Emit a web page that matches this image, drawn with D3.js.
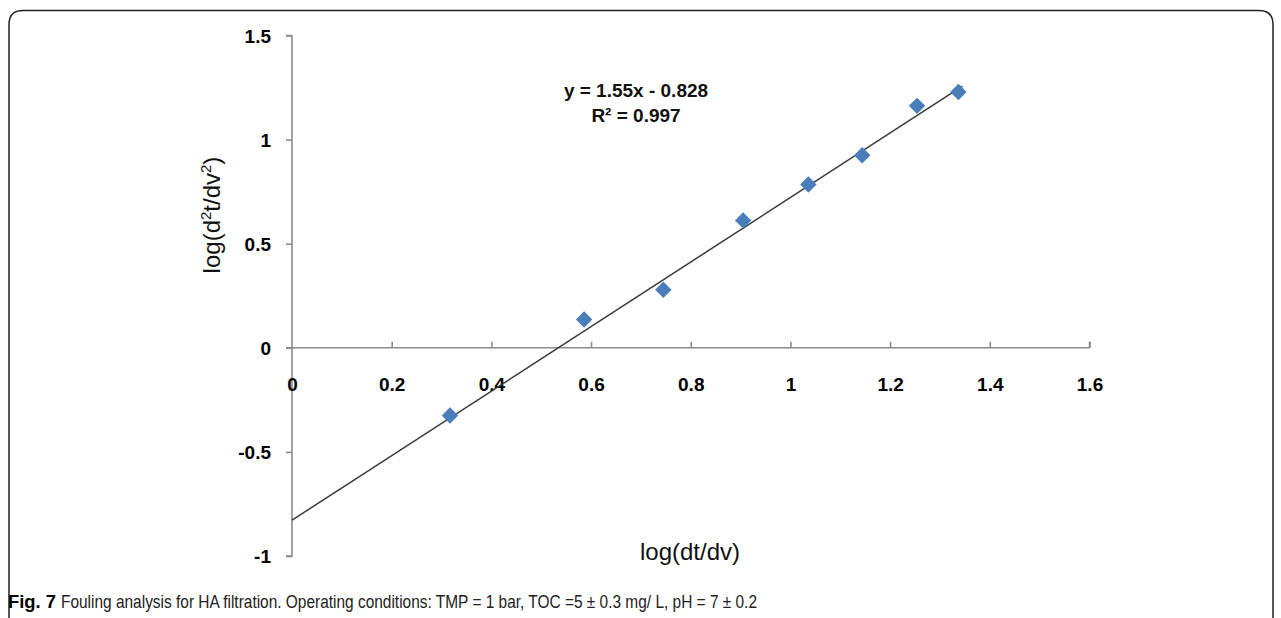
<!DOCTYPE html>
<html>
<head>
<meta charset="utf-8">
<script src="https://d3js.org/d3.v7.min.js"></script>
<style>
  html, body { margin: 0; padding: 0; background: #fff; }
  svg { display: block; }
</style>
</head>
<body>
<svg id="chart" width="1281" height="618"></svg>
<script>
// ---- data ----
const xValues = [0.317, 0.586, 0.745, 0.905, 1.036, 1.144, 1.254, 1.337];
const yValues = [-0.325, 0.136, 0.279, 0.612, 0.784, 0.925, 1.162, 1.229];
const xTicks = [0, 0.2, 0.4, 0.6, 0.8, 1, 1.2, 1.4, 1.6];
const xTickLabels = ["0", "0.2", "0.4", "0.6", "0.8", "1", "1.2", "1.4", "1.6"];
const yTicks = [-1, -0.5, 0, 0.5, 1, 1.5];
const yTickLabels = ["-1", "-0.5", "0", "0.5", "1", "1.5"];
const trendSlope = 1.55;
const trendIntercept = -0.828;
const trendRange = [0, 1.345];
const equationLines = ["y = 1.55x - 0.828", "R² = 0.997"];
const xTitle = "log(dt/dv)";
const captionBold = "Fig. 7";
const captionText = "Fouling analysis for HA filtration. Operating conditions: TMP = 1 bar, TOC =5 ± 0.3 mg/ L, pH = 7 ± 0.2";

const svg = d3.select("#chart");

// frame (rounded border)
const fx0 = 9, fy0 = 10.5, fx1 = 1273, r = 14;
svg.append("path")
  .attr("d", `M${fx0},620 L${fx0},${fy0 + r} Q${fx0},${fy0} ${fx0 + r},${fy0} L${fx1 - r},${fy0} Q${fx1},${fy0} ${fx1},${fy0 + r} L${fx1},620`)
  .attr("fill", "none").attr("stroke", "#222").attr("stroke-width", 1.5);

const x = d3.scaleLinear().domain([0, 1.6]).range([292, 1089.5]);
const y = d3.scaleLinear().domain([-1, 1.5]).range([556, 35.5]);

const axisColor = "#8c8c8c";
const tickFont = "'Liberation Sans', Arial, sans-serif";

// y axis
const yAxis = d3.axisLeft(y).tickValues(yTicks).tickSize(6)
  .tickFormat((d, i) => yTickLabels[i]);
const gy = svg.append("g").attr("transform", `translate(${x(0)},0)`).call(yAxis);
gy.select(".domain").attr("stroke", axisColor).attr("stroke-width", 1.6)
  .attr("d", `M-6,${y(1.5)}H0V${y(-1)}H-6`);
gy.selectAll(".tick line").attr("stroke", axisColor).attr("stroke-width", 1.6);
gy.selectAll(".tick text")
  .attr("x", -21).attr("dy", "0.36em")
  .style("font-family", tickFont).style("font-size", "19px").style("font-weight", "bold")
  .attr("fill", "#000");

// x axis (crosses at y=0)
const xAxis = d3.axisTop(x).tickValues(xTicks).tickSize(6)
  .tickFormat((d, i) => xTickLabels[i]);
const gx = svg.append("g").attr("transform", `translate(0,${y(0)})`).call(xAxis);
gx.select(".domain").attr("stroke", axisColor).attr("stroke-width", 1.6)
  .attr("d", `M${x(0) - 6},0H${x(1.6)}V-6`);
gx.selectAll(".tick line").attr("stroke", axisColor).attr("stroke-width", 1.6);
gx.selectAll(".tick").filter(d => d === 0).select("line").remove();
gx.selectAll(".tick text")
  .attr("y", 43).attr("dy", 0)
  .style("font-family", tickFont).style("font-size", "19px").style("font-weight", "bold")
  .attr("fill", "#000");

// trendline
svg.append("line")
  .attr("x1", x(trendRange[0])).attr("y1", y(trendSlope * trendRange[0] + trendIntercept))
  .attr("x2", x(trendRange[1])).attr("y2", y(trendSlope * trendRange[1] + trendIntercept))
  .attr("stroke", "#3a3a3a").attr("stroke-width", 1.5);

// points
const pts = xValues.map((v, i) => [v, yValues[i]]);
svg.append("g").selectAll("path").data(pts).join("path")
  .attr("d", d3.symbol().type(d3.symbolSquare).size(135))
  .attr("transform", d => `translate(${x(d[0])},${y(d[1])}) rotate(45)`)
  .attr("fill", "#4a7ebb");

// equation
const eq = svg.append("text")
  .attr("text-anchor", "middle")
  .style("font-family", tickFont).style("font-size", "19px").style("font-weight", "bold")
  .attr("fill", "#111");
eq.append("tspan").attr("x", 636).attr("y", 97).text(equationLines[0]);
eq.append("tspan").attr("x", 636).attr("y", 122).text(equationLines[1]);

// axis titles
svg.append("text")
  .attr("x", 690).attr("y", 560)
  .attr("text-anchor", "middle")
  .style("font-family", tickFont).style("font-size", "24px")
  .attr("fill", "#111")
  .text(xTitle);

const yt = svg.append("text")
  .attr("transform", `translate(220,215) rotate(-90)`)
  .attr("text-anchor", "middle")
  .style("font-family", tickFont).style("font-size", "24px")
  .attr("fill", "#111");
yt.append("tspan").text("log(d");
yt.append("tspan").attr("dy", -9).style("font-size", "15px").text("2");
yt.append("tspan").attr("dy", 9).text("t/dv");
yt.append("tspan").attr("dy", -9).style("font-size", "15px").text("2");
yt.append("tspan").attr("dy", 9).text(")");

// caption
svg.append("text")
  .attr("x", 8).attr("y", 608)
  .attr("textLength", 48).attr("lengthAdjust", "spacingAndGlyphs")
  .style("font-family", "'Liberation Sans', Arial, sans-serif")
  .style("font-size", "19px").style("font-weight", "bold")
  .attr("fill", "#000")
  .text(captionBold);
svg.append("text")
  .attr("x", 61).attr("y", 608)
  .attr("textLength", 696).attr("lengthAdjust", "spacingAndGlyphs")
  .style("font-family", "'Liberation Sans', Arial, sans-serif")
  .style("font-size", "19px")
  .attr("fill", "#222")
  .text(captionText);
</script>
</body>
</html>
